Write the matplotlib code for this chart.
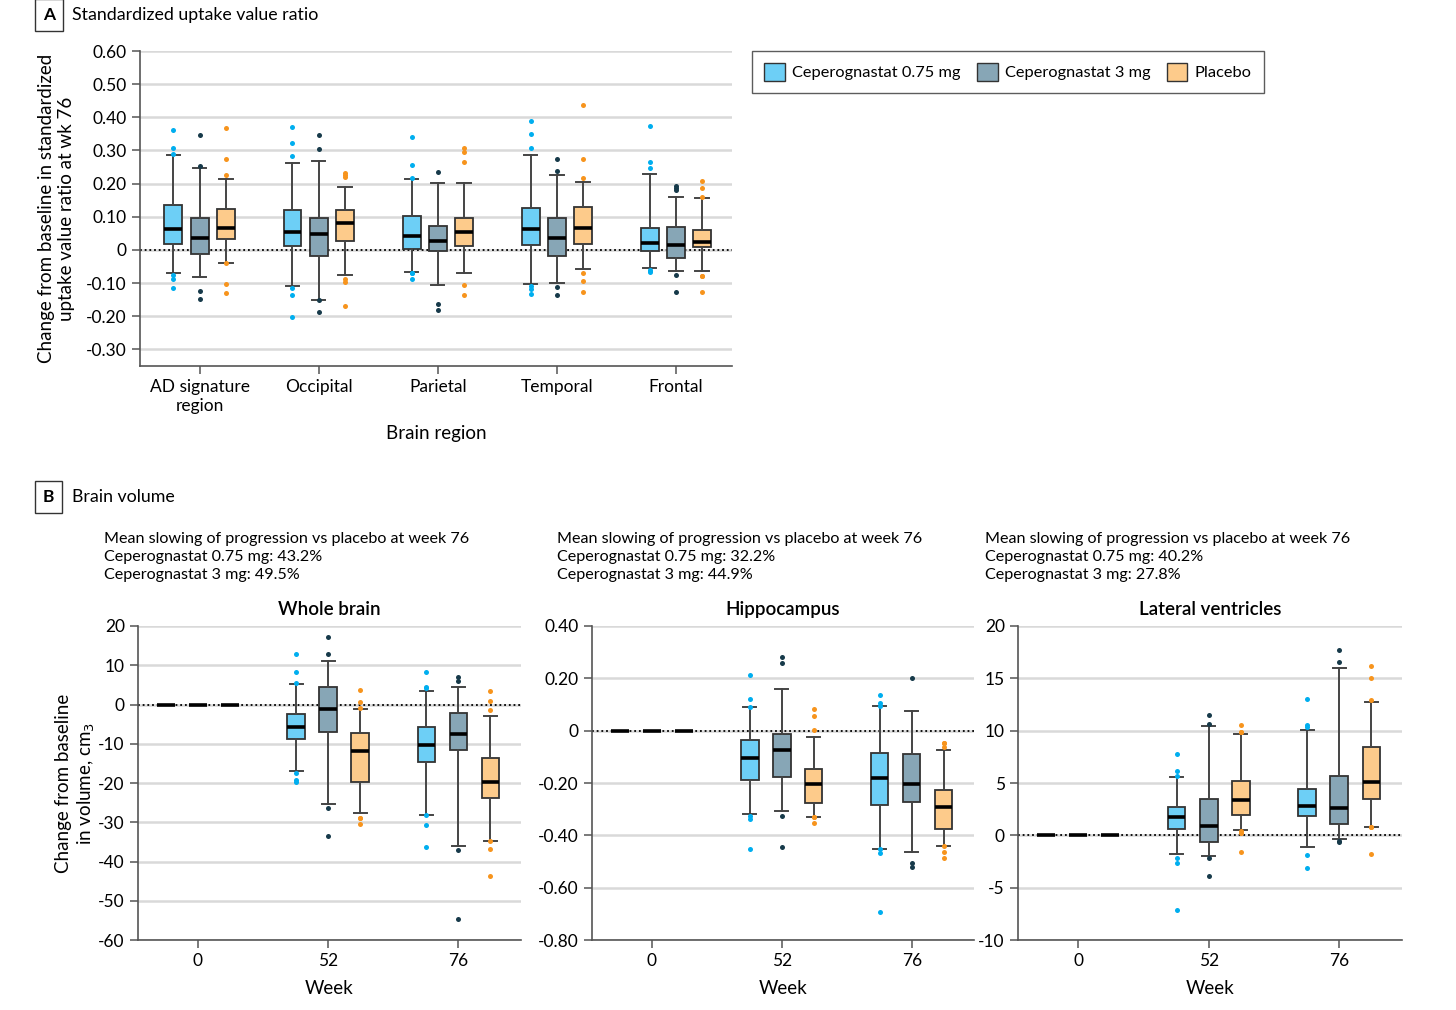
import matplotlib
matplotlib.use("Agg")
import matplotlib.pyplot as plt
from matplotlib.patches import Patch

plt.rcParams['font.family'] = ['Lato', 'DejaVu Sans']

GROUPS = ['Ceperognastat 0.75 mg', 'Ceperognastat 3 mg', 'Placebo']
FILL = ['#6dcff6', '#87a6b6', '#fdcb8b']
DOT = ['#00aeef', '#173a4a', '#f7941d']

# Panel A: [whislo, q1, med, q3, whishi] per region
regions = ['AD signature\nregion', 'Occipital', 'Parietal', 'Temporal', 'Frontal']
suvr_075 = [[-0.070, 0.019, 0.064, 0.135, 0.287],
            [-0.110, 0.011, 0.055, 0.122, 0.262],
            [-0.067, 0.004, 0.041, 0.103, 0.215],
            [-0.102, 0.016, 0.062, 0.128, 0.287],
            [-0.055, -0.004, 0.022, 0.067, 0.228]]
suvr_3 = [[-0.082, -0.012, 0.036, 0.095, 0.247],
          [-0.150, -0.019, 0.047, 0.097, 0.269],
          [-0.107, -0.003, 0.026, 0.073, 0.201],
          [-0.100, -0.019, 0.037, 0.097, 0.226],
          [-0.064, -0.024, 0.016, 0.069, 0.159]]
suvr_pbo = [[-0.038, 0.034, 0.066, 0.125, 0.215],
            [-0.077, 0.028, 0.081, 0.122, 0.189],
            [-0.069, 0.011, 0.055, 0.095, 0.201],
            [-0.057, 0.017, 0.065, 0.131, 0.206],
            [-0.064, 0.008, 0.024, 0.059, 0.158]]
suvr_075_out = [[0.362, 0.309, 0.289, -0.075, -0.087, -0.115],
                [0.371, 0.323, 0.284, -0.116, -0.135, -0.203],
                [0.340, 0.255, 0.218, -0.069, -0.069, -0.089],
                [0.388, 0.349, 0.307, -0.110, -0.117, -0.134],
                [0.375, 0.264, 0.248, -0.059, -0.064, -0.067]]
suvr_3_out = [[0.348, 0.254, -0.123, -0.149],
              [0.348, 0.305, -0.150, -0.188],
              [0.235, -0.164, -0.181],
              [0.274, 0.239, -0.112, -0.135],
              [0.194, 0.188, 0.181, -0.075, -0.126]]
suvr_pbo_out = [[0.368, 0.274, 0.227, -0.040, -0.103, -0.130],
                [0.231, 0.226, 0.221, -0.089, -0.098, -0.168],
                [0.306, 0.294, 0.266, -0.107, -0.135],
                [0.437, 0.275, 0.216, -0.070, -0.093, -0.126],
                [0.207, 0.188, 0.161, -0.080, -0.080, -0.128]]

# Panel B: weeks 0, 52, 76
weeks = ['0', '52', '76']
wb_075 = [[0, 0, 0, 0, 0], [-16.9, -8.8, -5.85, -2.46, 5.25], [-28.2, -14.6, -10.3, -5.76, 3.56]]
wb_3 = [[0, 0, 0, 0, 0], [-25.3, -7.0, -1.27, 4.58, 11.2], [-36.0, -11.6, -7.4, -2.1, 4.4]]
wb_pbo = [[0, 0, 0, 0, 0], [-27.6, -19.7, -11.8, -7.37, -1.27], [-34.8, -23.9, -19.8, -13.6, -3.05]]
wb_075_out = [[], [12.8, 8.3, 5.6, -17.5, -19.2, -19.7], [8.2, 4.5, 4.2, -28.2, -30.8, -36.4]]
wb_3_out = [[], [17.3, 12.9, -26.4, -33.5], [6.9, 6.1, -37.0, -54.7]]
wb_pbo_out = [[], [3.8, 0.7, -1.0, -29.0, -29.0, -30.4], [3.5, 0.85, -1.36, -34.8, -36.9, -43.6]]

hc_075 = [[0, 0, 0, 0, 0], [-0.318, -0.190, -0.103, -0.034, 0.089], [-0.451, -0.283, -0.180, -0.085, 0.094]]
hc_3 = [[0, 0, 0, 0, 0], [-0.307, -0.178, -0.075, -0.014, 0.158], [-0.465, -0.274, -0.203, -0.090, 0.074]]
hc_pbo = [[0, 0, 0, 0, 0], [-0.331, -0.278, -0.203, -0.145, -0.023], [-0.439, -0.377, -0.293, -0.228, -0.075]]
hc_075_out = [[], [0.214, 0.120, 0.090, -0.325, -0.339, -0.454], [0.135, 0.106, 0.096, -0.452, -0.466, -0.692]]
hc_3_out = [[], [0.283, 0.257, -0.327, -0.446], [0.203, -0.504, -0.520]]
hc_pbo_out = [[], [0.082, 0.057, 0.003, -0.331, -0.331, -0.354], [-0.046, -0.048, -0.064, -0.439, -0.465, -0.487]]

lv_075 = [[0, 0, 0, 0, 0], [-1.79, 0.61, 1.79, 2.71, 5.55], [-1.09, 1.85, 2.84, 4.47, 10.09]]
lv_3 = [[0, 0, 0, 0, 0], [-1.95, -0.64, 0.93, 3.48, 10.4], [-0.35, 1.09, 2.59, 5.68, 16.02]]
lv_pbo = [[0, 0, 0, 0, 0], [0.51, 1.95, 3.38, 5.20, 9.70], [0.80, 3.48, 5.07, 8.46, 12.77]]
lv_075_out = [[], [7.79, 6.13, 5.65, -2.20, -2.62, -7.12], [12.99, 10.5, 10.34, -1.88, -3.16]]
lv_3_out = [[], [11.5, 10.6, -2.17, -3.89], [17.75, 16.6, -0.54, -0.67]]
lv_pbo_out = [[], [10.56, 9.86, 9.86, 0.38, 0.22, -1.56], [16.18, 15.07, 12.96, 0.80, 0.80, -1.82]]

slowing = [('43.2%', '49.5%'), ('32.2%', '44.9%'), ('40.2%', '27.8%')]


def to_stats(rows, outs):
    stats = []
    for r, o in zip(rows, outs):
        stats.append(dict(whislo=r[0], q1=r[1], med=r[2], q3=r[3], whishi=r[4], fliers=o))
    return stats


def draw_groups(ax, series, offset, width):
    for i, (rows, outs) in enumerate(series):
        pos = [k + (i - 1) * offset for k in range(len(rows))]
        ax.bxp(to_stats(rows, outs), positions=pos, widths=width,
               capwidths=width * 0.75, patch_artist=True, manage_ticks=False,
               boxprops=dict(facecolor=FILL[i], edgecolor='#333333', linewidth=1.3),
               medianprops=dict(color='black', linewidth=2.6),
               whiskerprops=dict(color='#444444', linewidth=1.4),
               capprops=dict(color='#444444', linewidth=1.4),
               flierprops=dict(marker='o', markersize=3.6, markerfacecolor=DOT[i],
                               markeredgecolor='none'))


def style_axes(ax, ticks, fmt):
    ax.set_yticks(ticks)
    ax.set_yticklabels([fmt(t) for t in ticks])
    ax.yaxis.grid(True, color='#d9d9d9', linewidth=1.8)
    ax.set_axisbelow(True)
    ax.axhline(0, color='black', linestyle=(0, (1, 1.6)), linewidth=1.3, zorder=1.5)
    for s in ['top', 'right']:
        ax.spines[s].set_visible(False)
    for s in ['left', 'bottom']:
        ax.spines[s].set_color('#555555')
        ax.spines[s].set_linewidth(1.2)
    ax.tick_params(axis='both', labelsize=12.5, color='#555555', length=6, width=1.1)


def main():
    fig = plt.figure(figsize=(14.56, 10.10), dpi=100)

    # Panel A
    ax = fig.add_axes([0.0962, 0.6376, 0.4065, 0.3119])
    draw_groups(ax, [(suvr_075, suvr_075_out), (suvr_3, suvr_3_out), (suvr_pbo, suvr_pbo_out)],
                0.22, 0.15)
    ax.set_xlim(-0.5, 4.47)
    ax.set_ylim(-0.35, 0.60)
    yt = [-0.30, -0.20, -0.10, 0, 0.10, 0.20, 0.30, 0.40, 0.50, 0.60]
    style_axes(ax, yt, lambda t: '0' if t == 0 else '%.2f' % t)
    ax.set_xticks(range(len(regions)))
    ax.set_xticklabels(regions)
    ax.set_xlabel('Brain region', fontsize=13.5, labelpad=8)
    ax.set_ylabel('Change from baseline in standardized\nuptake value ratio at wk 76',
                  fontsize=13.5, labelpad=8)
    handles = [Patch(facecolor=FILL[i], edgecolor='#333333', label=GROUPS[i]) for i in range(3)]
    fig.legend(handles=handles, loc='upper left', bbox_to_anchor=(0.5165, 0.9495), ncol=3,
               fontsize=11.8, frameon=True, fancybox=False, edgecolor='#333333',
               handlelength=1.25, handleheight=1.25, columnspacing=1.0, handletextpad=0.45,
               borderpad=0.75, borderaxespad=0)

    fig.text(0.0335, 0.985, 'A', fontsize=12.5, fontweight='bold', va='center', ha='center',
             bbox=dict(boxstyle='square,pad=0.45', facecolor='white', edgecolor='#333333'))
    fig.text(0.0495, 0.985, 'Standardized uptake value ratio', fontsize=12.8, va='center')
    fig.text(0.0335, 0.508, 'B', fontsize=12.5, fontweight='bold', va='center', ha='center',
             bbox=dict(boxstyle='square,pad=0.45', facecolor='white', edgecolor='#333333'))
    fig.text(0.0495, 0.508, 'Brain volume', fontsize=12.8, va='center')

    # Panel B
    panels = [
        ('Whole brain', [0.0948, 0.0693, 0.2630, 0.3109], (-60, 20),
         [-60, -50, -40, -30, -20, -10, 0, 10, 20], lambda t: '%d' % t,
         [(wb_075, wb_075_out), (wb_3, wb_3_out), (wb_pbo, wb_pbo_out)], 0.0714),
        ('Hippocampus', [0.4066, 0.0693, 0.2624, 0.3109], (-0.80, 0.40),
         [-0.80, -0.60, -0.40, -0.20, 0, 0.20, 0.40], lambda t: '0' if t == 0 else '%.2f' % t,
         [(hc_075, hc_075_out), (hc_3, hc_3_out), (hc_pbo, hc_pbo_out)], 0.3825),
        ('Lateral ventricles', [0.6992, 0.0693, 0.2637, 0.3109], (-10, 20),
         [-10, -5, 0, 5, 10, 15, 20], lambda t: '%d' % t,
         [(lv_075, lv_075_out), (lv_3, lv_3_out), (lv_pbo, lv_pbo_out)], 0.6765),
    ]
    for k, (title, rect, ylim, yt, fmt, series, tx) in enumerate(panels):
        ax = fig.add_axes(rect)
        draw_groups(ax, series, 0.246, 0.135)
        ax.set_xlim(-0.46, 2.48)
        ax.set_ylim(*ylim)
        style_axes(ax, yt, fmt)
        ax.set_xticks(range(len(weeks)))
        ax.set_xticklabels(weeks)
        ax.set_xlabel('Week', fontsize=13.5, labelpad=8)
        ax.set_title(title, fontsize=13.5, fontweight='semibold', pad=8)
        a, b = slowing[k]
        fig.text(tx, 0.4485, 'Mean slowing of progression vs placebo at week 76\n'
                 'Ceperognastat 0.75 mg: %s\nCeperognastat 3 mg: %s' % (a, b),
                 fontsize=11.6, va='center', ha='left', linespacing=1.35)
        if k == 0:
            ax.set_ylabel('Change from baseline\nin volume, cm$_3$', fontsize=13.5, labelpad=1)

    fig.savefig('out.png', dpi=100)


if __name__ == '__main__':
    main()
